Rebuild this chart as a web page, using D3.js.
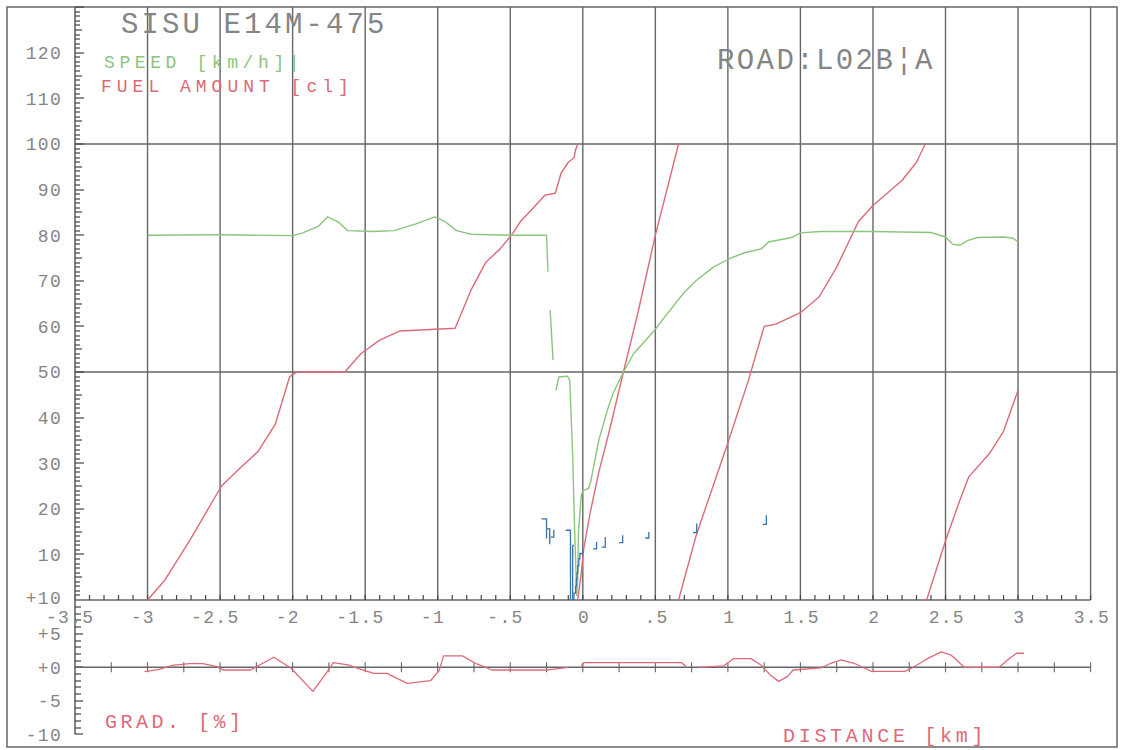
<!DOCTYPE html>
<html>
<head>
<meta charset="utf-8">
<script src="https://cdn.jsdelivr.net/npm/d3@7"></script>
<style>
  html,body{margin:0;padding:0;background:#fff;}
  svg{display:block;}
  text{font-family:"Liberation Mono","DejaVu Sans Mono",monospace;}
</style>
</head>
<body>
<svg id="chart" width="1122" height="750"></svg>
<script>
// ---------------- DATA ----------------
const titleText = "SISU E14M-475";
const roadText = "ROAD:L02B\u00A6A";
const speedLabel = "SPEED [km/h]|";
const fuelLabel = "FUEL AMOUNT [cl]";
const gradLabel = "GRAD. [%]";
const distLabel = "DISTANCE [km]";

const xTickValues = [-3.5,-3,-2.5,-2,-1.5,-1,-0.5,0,0.5,1,1.5,2,2.5,3,3.5];
const xTickLabels = ["-3.5","-3","-2.5","-2","-1.5","-1","-.5","0",".5","1","1.5","2","2.5","3","3.5"];
const yTickValues = [10,20,30,40,50,60,70,80,90,100,110,120];
const yTickLabels = ["10","20","30","40","50","60","70","80","90","100","110","120"];
const gradTickValues = [10,5,0,-5,-10];
const gradTickLabels = ["+10","+5","+0","-5","-10"];
const hGridValues = [50,100];

// speed [km/h] vs distance [km]; null = pen lifted
const speedData = [
  [-3.0,80],[-2.5,80.1],[-2.0,79.9],[-1.93,80.5],[-1.82,82],[-1.76,84],[-1.69,83],[-1.62,81],
  [-1.45,80.8],[-1.3,81],[-1.15,82.5],[-1.02,84],[-0.95,83],[-0.87,81],[-0.77,80.2],[-0.5,80],
  [-0.25,80],[-0.24,72],null,
  [-0.225,63.6],[-0.205,52.6],null,
  [-0.185,46],[-0.165,48.9],[-0.105,49.1],[-0.09,48.2],[-0.07,32],[-0.055,14],[-0.042,1],
  [-0.035,5],[-0.03,15],[-0.01,23],[0.0,24],[0.04,24.5],[0.055,26],[0.11,35],[0.17,41.7],
  [0.21,45.4],[0.28,50],[0.35,54],[0.49,59],[0.6,63.5],[0.7,67.5],[0.78,70],[0.9,73],
  [1.02,75],[1.12,76.2],[1.23,77],[1.28,78.5],[1.44,79.5],[1.5,80.5],[1.64,80.8],[2.0,80.8],
  [2.4,80.6],[2.5,79.6],[2.55,78],[2.6,77.8],[2.65,78.8],[2.72,79.5],[2.9,79.6],[2.96,79.4],[3.0,78.6]
];

// fuel amount [cl] vs distance; counter restarts at 100
const fuelData = [
  [-3.0,0],[-2.88,4.4],[-2.71,13],[-2.49,25],[-2.36,29],[-2.24,32.5],[-2.12,38.5],[-2.02,49],
  [-1.97,50],[-1.64,50],[-1.53,54],[-1.40,57],[-1.26,59],[-0.88,59.6],[-0.77,68],[-0.67,74],
  [-0.57,77],[-0.48,80.5],[-0.43,83],[-0.34,86],[-0.26,88.8],[-0.19,89.2],[-0.15,93.6],
  [-0.10,96],[-0.06,97],[-0.05,98.7],[-0.035,100],null,
  [-0.035,0],[-0.01,6],[0.005,11],[0.05,19],[0.11,28],[0.19,38],[0.28,50],[0.38,63],
  [0.5,80],[0.66,100],null,
  [0.66,0],[0.78,14],[1.0,34.5],[1.14,48],[1.25,60],[1.33,60.5],[1.5,63],[1.63,66.5],
  [1.75,73],[1.9,83],[2.0,86.5],[2.2,92],[2.3,96],[2.36,100],null,
  [2.37,0],[2.5,13],[2.6,22],[2.66,27],[2.8,32],[2.9,37],[3.0,46]
];

// blue step marks (distance, value)
const stepMarks = [
  [[-0.285,17.8],[-0.25,17.8],[-0.25,13.5]],
  [[-0.25,15.6],[-0.228,15.6],[-0.228,12.2]],
  [[-0.222,13.8],[-0.2,13.8],[-0.2,15.4]],
  [[-0.118,15.3],[-0.085,15.3],[-0.085,0]],
  [[-0.07,0],[-0.07,12],[-0.062,12]],
  [[-0.062,0],[-0.06,1.5],[-0.05,1.5],[-0.05,3],[-0.045,3],[-0.045,4.5],[-0.04,4.5],[-0.04,6],
   [-0.035,6],[-0.035,7.5],[-0.028,7.5],[-0.028,9],[-0.02,9],[-0.02,10.2],[0.0,10.2],[0.0,11]],
  [[0.07,11.2],[0.095,11.2],[0.095,12.8]],
  [[0.13,11.6],[0.155,11.6],[0.155,13.8]],
  [[0.25,12.6],[0.275,12.6],[0.275,14.2]],
  [[0.43,13.6],[0.455,13.6],[0.455,14.9]],
  [[0.76,14.8],[0.785,14.8],[0.785,16.8]],
  [[1.24,16.6],[1.265,16.6],[1.265,18.6]]
];

// road gradient [%] vs distance
const gradData = [
  [-3.02,-0.65],[-2.92,-0.3],[-2.83,0.3],[-2.71,0.55],[-2.62,0.55],[-2.52,0.1],[-2.48,-0.4],
  [-2.29,-0.4],[-2.24,0.2],[-2.13,1.5],[-2.01,-0.15],[-1.86,-3.6],[-1.76,-0.6],[-1.72,0.7],
  [-1.62,0.35],[-1.53,-0.3],[-1.44,-0.9],[-1.35,-0.9],[-1.21,-2.4],[-1.05,-2.0],[-0.99,-0.5],
  [-0.96,1.7],[-0.83,1.7],[-0.74,0.6],[-0.66,-0.1],[-0.63,-0.4],[-0.24,-0.4],[-0.10,0],null,
  [-0.01,0.2],[0.01,0.7],[0.68,0.7],[0.71,0.2],null,
  [0.80,0],[0.97,0.2],[1.04,1.3],[1.16,1.3],[1.23,0.3],[1.29,-1.1],[1.35,-2.1],[1.41,-1.4],
  [1.45,-0.4],[1.64,-0.1],[1.71,0.6],[1.78,1.1],[1.87,0.6],[1.94,-0.1],[1.99,-0.6],[2.22,-0.6],
  [2.27,-0.1],[2.36,1.1],[2.47,2.3],[2.54,1.8],[2.63,0],[2.87,0],[2.94,1.3],[2.99,2.1],[3.04,2.1]
];

// ---------------- STYLE ----------------
const C = {
  frame:"#5c5c5c", grid:"#666666", tick:"#444444", text:"#858585",
  green:"#8cc47e", red:"#dc6a78", blue:"#3d72aa"
};

// ---------------- SCALES ----------------
const svg = d3.select("#chart");
const x = d3.scaleLinear().domain([-3.5,3.5]).range([75,1090.6]);
const y = d3.scaleLinear().domain([0,130]).range([600,7.2]);
const g = d3.scaleLinear().domain([-10,10]).range([734.3,600.3]);
const X0 = x(-3.5);

// frame
svg.append("rect").attr("x",7).attr("y",7).attr("width",1110).attr("height",740)
  .attr("fill","none").attr("stroke",C.frame).attr("stroke-width",1.4);

// vertical grid
svg.append("g").selectAll("line").data(xTickValues.slice(1)).join("line")
  .attr("x1",d=>x(d)).attr("x2",d=>x(d)).attr("y1",7).attr("y2",y(0))
  .attr("stroke",C.grid).attr("stroke-width",1.4);
// horizontal grid
svg.append("g").selectAll("line").data(hGridValues).join("line")
  .attr("x1",X0).attr("x2",1117).attr("y1",d=>y(d)).attr("y2",d=>y(d))
  .attr("stroke",C.grid).attr("stroke-width",1.4);

// main x axis
svg.append("line").attr("x1",X0).attr("x2",x(3.5)).attr("y1",y(0)).attr("y2",y(0))
  .attr("stroke",C.grid).attr("stroke-width",1.6);
const minorX = d3.range(-35,36).map(i=>i/10);
svg.append("g").selectAll("line").data(minorX).join("line")
  .attr("x1",d=>x(d)).attr("x2",d=>x(d)).attr("y1",y(0)).attr("y2",y(0)-5)
  .attr("stroke",C.tick).attr("stroke-width",1.2);

// left axis line
svg.append("line").attr("x1",X0).attr("x2",X0).attr("y1",7).attr("y2",g(-10))
  .attr("stroke",C.grid).attr("stroke-width",1.6);
// left axis ticks (ladder)
const yMinor = d3.range(1,131);
const gMinor = d3.range(-10,10);
svg.append("g").selectAll("rect").data(yMinor).join("rect")
  .attr("x",X0).attr("y",d=>Math.round(y(d))-0.6).attr("height",1.2)
  .attr("width",d=>d%10===0?9:(d%5===0?7:5)).attr("fill",C.tick);
svg.append("g").selectAll("rect").data(gMinor).join("rect")
  .attr("x",X0).attr("y",d=>Math.round(g(d))-0.6).attr("height",1.2)
  .attr("width",d=>d%5===0?8:6).attr("fill",C.tick);

// gradient zero line with ticks
svg.append("line").attr("x1",X0).attr("x2",x(3.5)).attr("y1",g(0)).attr("y2",g(0))
  .attr("stroke",C.grid).attr("stroke-width",1.6);
svg.append("g").selectAll("line").data(d3.range(-13,15).map(i=>i/4)).join("line")
  .attr("x1",d=>x(d)).attr("x2",d=>x(d)).attr("y1",g(0)-5).attr("y2",g(0)+5)
  .attr("stroke",C.grid).attr("stroke-width",1.1);

// ---------------- TEXT ----------------
const fs = 18, ls = 1.3, adv = fs*0.6+ls;
// x tick labels: centred on the unsigned part
svg.append("g").selectAll("text").data(xTickValues).join("text")
  .attr("x",(d,i)=>{const lab=xTickLabels[i]; const abs=lab.replace("-",""); return x(d)+abs.length*adv/2;})
  .attr("y",623).attr("text-anchor","end").attr("font-size",fs).attr("letter-spacing",ls)
  .attr("fill",C.text).attr("dx",ls).text((d,i)=>xTickLabels[i]);
// y tick labels
svg.append("g").selectAll("text").data(yTickValues).join("text")
  .attr("x",62).attr("y",d=>y(d)).attr("dy","0.36em").attr("text-anchor","end")
  .attr("font-size",fs).attr("letter-spacing",ls).attr("fill",C.text)
  .text((d,i)=>yTickLabels[i]);
svg.append("g").selectAll("text").data(gradTickValues).join("text")
  .attr("x",62).attr("y",d=>g(d)).attr("dy",(d)=>d===10?"0.2em":"0.36em").attr("text-anchor","end")
  .attr("font-size",fs).attr("letter-spacing",ls).attr("fill",C.text)
  .text((d,i)=>gradTickLabels[i]);

svg.append("text").attr("x",121).attr("y",33).attr("font-size",29).attr("letter-spacing",3.1)
  .attr("fill",C.text).text(titleText);
svg.append("text").attr("x",717).attr("y",69).attr("font-size",29).attr("letter-spacing",2.4)
  .attr("fill",C.text).text(roadText);
svg.append("text").attr("x",104).attr("y",68).attr("font-size",18).attr("letter-spacing",4.6)
  .attr("fill",C.green).text(speedLabel);
svg.append("text").attr("x",101).attr("y",92).attr("font-size",18).attr("letter-spacing",5)
  .attr("fill",C.red).text(fuelLabel);
svg.append("text").attr("x",105).attr("y",728).attr("font-size",20).attr("letter-spacing",3.5)
  .attr("fill",C.red).text(gradLabel);
svg.append("text").attr("x",783).attr("y",742).attr("font-size",20).attr("letter-spacing",3.7)
  .attr("fill",C.red).text(distLabel);

// ---------------- SERIES ----------------
const lineMain = d3.line().defined(d=>d!==null).x(d=>x(d[0])).y(d=>y(d[1]));
const lineGrad = d3.line().defined(d=>d!==null).x(d=>x(d[0])).y(d=>g(d[1]));

svg.append("path").datum(fuelData).attr("d",lineMain).attr("fill","none")
  .attr("stroke",C.red).attr("stroke-width",1.4).attr("stroke-linejoin","round");
svg.append("path").datum(speedData).attr("d",lineMain).attr("fill","none")
  .attr("stroke",C.green).attr("stroke-width",1.4).attr("stroke-linejoin","round");
svg.append("g").selectAll("path").data(stepMarks).join("path")
  .attr("d",lineMain).attr("fill","none").attr("stroke",C.blue).attr("stroke-width",1.3);
svg.append("path").datum(gradData).attr("d",lineGrad).attr("fill","none")
  .attr("stroke",C.red).attr("stroke-width",1.3).attr("stroke-linejoin","round");
</script>
</body>
</html>
